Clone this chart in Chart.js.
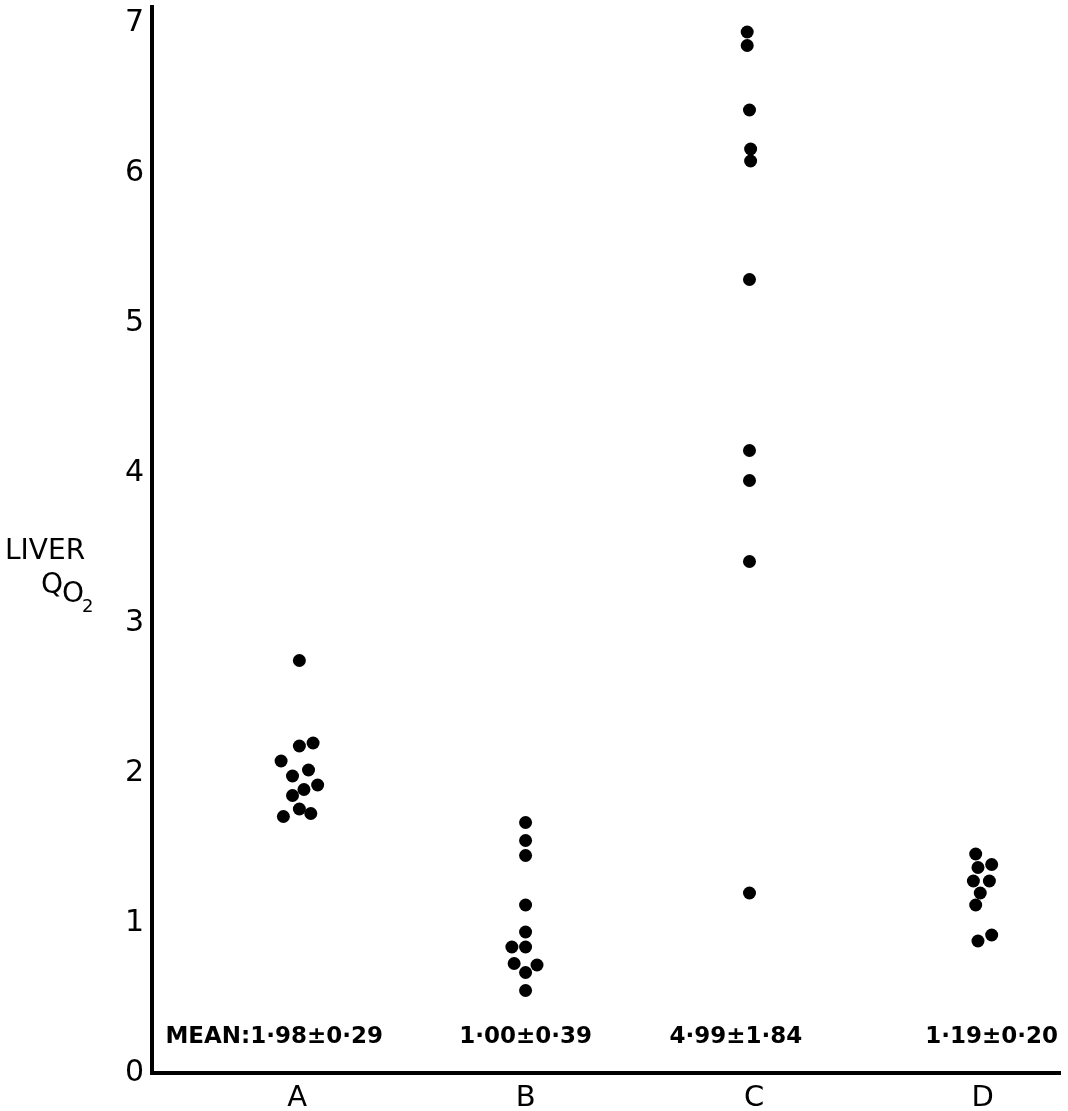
<!DOCTYPE html>
<html>
<head>
<meta charset="utf-8">
<title>Liver QO2</title>
<script src="https://cdn.jsdelivr.net/npm/chart.js@4.4.1/dist/chart.umd.min.js"></script>
<style>
  html, body { margin: 0; padding: 0; background: #fff; }
  #wrap { width: 1068px; height: 1111px; }
</style>
</head>
<body>
<div id="wrap"><canvas id="liverChart"></canvas></div>
<script>
// groups along the bottom
const groups = ['A', 'B', 'C', 'D'];
const yTicks = [0, 1, 2, 3, 4, 5, 6, 7];
const meanLabels = ['MEAN:1·98±0·29', '1·00±0·39', '4·99±1·84', '1·19±0·20'];

// liver QO2 for each animal
const groupA = [2.75, 2.18, 2.20, 2.08, 1.98, 2.02, 1.92, 1.89, 1.85, 1.76, 1.71, 1.73];
const groupB = [1.67, 1.55, 1.45, 1.12, 0.94, 0.84, 0.84, 0.73, 0.72, 0.67, 0.55];
const groupC = [6.94, 6.85, 6.42, 6.16, 6.08, 5.29, 4.15, 3.95, 3.41, 1.20];
const groupD = [1.46, 1.37, 1.39, 1.28, 1.28, 1.20, 1.12, 0.92, 0.88];

// sideways scatter of the dots inside a column (fraction of a group width)
const spreadA = [0.01, 0.01, 0.07, -0.07, -0.02, 0.05, 0.09, 0.03, -0.02, 0.01, -0.06, 0.06];
const spreadB = [0, 0, 0, 0, 0, -0.06, 0, -0.05, 0.05, 0, 0];
const spreadC = [-0.03, -0.03, -0.02, -0.015, -0.015, -0.02, -0.02, -0.02, -0.02, -0.02];
const spreadD = [-0.03, -0.02, 0.04, -0.04, 0.03, -0.01, -0.03, 0.04, -0.02];

const allValues = [groupA, groupB, groupC, groupD];
const allSpread = [spreadA, spreadB, spreadC, spreadD];

const datasets = allValues.map(function (vals, g) {
    return {
        label: groups[g],
        data: vals.map((v, i) => ({ x: g + 1 + allSpread[g][i], y: v })),
        backgroundColor: '#000',
        borderWidth: 0,
        pointRadius: 6.5
    };
});

// mean labels under the columns + the LIVER QO2 title
const extraText = {
    id: 'extraText',
    afterDraw(chart) {
        const { ctx, scales: { x, y } } = chart;
        ctx.save();
        ctx.fillStyle = '#000';
        ctx.textBaseline = 'middle';
        ctx.textAlign = 'center';
        ctx.font = 'bold 23px "DejaVu Sans"';
        const shift = [-0.1, 0, -0.08, 0.04];
        meanLabels.forEach(function (t, i) {
            ctx.fillText(t, x.getPixelForValue(i + 1 + shift[i]), y.getPixelForValue(0.24));
        });

        ctx.textAlign = 'left';
        ctx.font = '28px "DejaVu Sans"';
        ctx.fillText('LIVER', 5, 552);
        ctx.fillText('Q', 41, 586);
        ctx.fillText('O', 62, 595);
        ctx.font = '18px "DejaVu Sans"';
        ctx.fillText('2', 82, 607);
        ctx.restore();
    }
};

const ctx = document.getElementById('liverChart').getContext('2d');
new Chart(ctx, {
    type: 'scatter',
    data: { datasets: datasets },
    options: {
        responsive: true,
        maintainAspectRatio: false,
        animation: false,
        layout: { padding: { top: 6, right: 8, left: 0, bottom: 0 } },
        plugins: {
            legend: { display: false },
            tooltip: { enabled: false }
        },
        scales: {
            x: {
                type: 'linear',
                min: 0.365,
                max: 4.339,
                afterBuildTicks: s => { s.ticks = groups.map((g, i) => ({ value: i + 1 })); },
                afterFit: s => { s.height = 38; s.paddingLeft = 0; s.paddingRight = 0; },
                grid: { display: false, drawTicks: false },
                border: { display: true, width: 4, color: '#000' },
                ticks: {
                    autoSkip: false,
                    maxRotation: 0,
                    padding: 8,
                    color: '#000',
                    font: { family: 'DejaVu Sans', size: 29 },
                    callback: v => groups[v - 1]
                }
            },
            y: {
                min: 0,
                max: 7.11,
                afterBuildTicks: s => { s.ticks = yTicks.map(v => ({ value: v })); },
                afterFit: s => { s.width = 152; s.paddingTop = 0; s.paddingBottom = 0; },
                grid: { display: false, drawTicks: false },
                border: { display: true, width: 4, color: '#000' },
                ticks: {
                    padding: 8,
                    color: '#000',
                    font: { family: 'DejaVu Sans', size: 30 }
                }
            }
        }
    },
    plugins: [extraText]
});
</script>
</body>
</html>
